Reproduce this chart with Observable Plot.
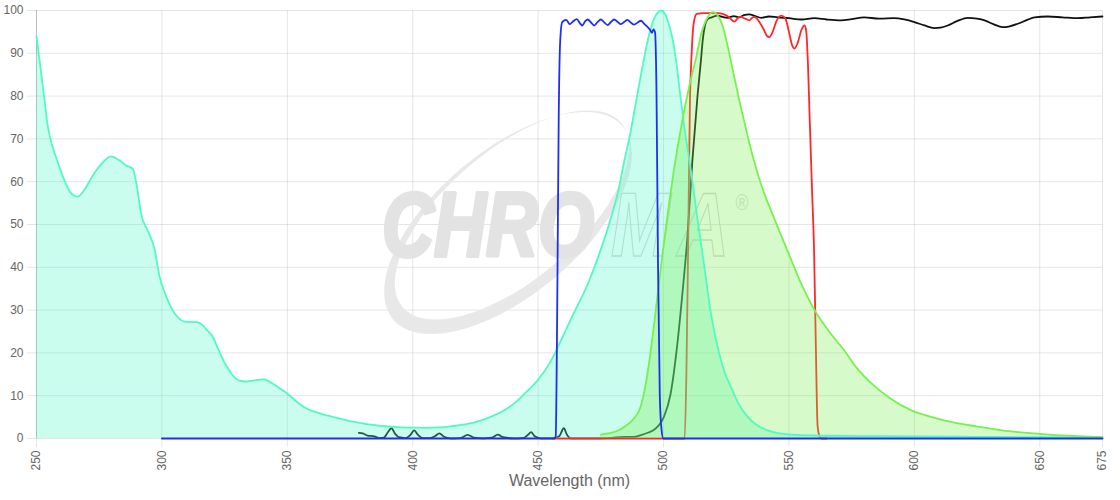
<!DOCTYPE html>
<html>
<head>
<meta charset="utf-8">
<script src="https://cdn.jsdelivr.net/npm/d3@7"></script>
<script src="https://cdn.jsdelivr.net/npm/@observablehq/plot@0.6"></script>
<style>
  body { margin: 0; background: #fff; }
  #chart { width: 1120px; height: 500px; }
</style>
</head>
<body>
<div id="chart"></div>
<script>
// ---- Tick labels ----
const xTicks = [250, 300, 350, 400, 450, 500, 550, 600, 650, 675];
const yTicks = [0, 10, 20, 30, 40, 50, 60, 70, 80, 90, 100];
const xLabel = "Wavelength (nm)";

// ---- Excitation spectrum (aquamarine) ----
const exWl = [250,251.5,253,254.5,256.5,258.5,261,263.5,266.4,269,272.4,276,279.7,283,285.7,288.4,290,291.7,294.3,297,299,301.5,303.6,306.9,309,311.6,314,315.6,318,320.3,322.5,324.9,327,328.9,331,333.5,337,340.8,342.5,344.8,347.5,350.2,353.5,356.8,360,363.4,367,371.4,375.4,379.4,385,390,395,399.3,405,411.3,416,421.9,427,432.5,437,441.9,445,449.8,455.2,459.1,464,469.8,474,479.1,482,484.4,486.5,488.4,491,493.7,496,498,499,500.5,502,503.7,505,506.5,508.3,510.9,513.6,516.3,518.9,522.2,524.5,526.9,530,533.6,537,541.5,546,550.9,560,580,600,625,650,675];
const exVal = [94,87,80,73,68,64.5,60.5,57.5,56.5,58,61.4,64.2,65.9,65,63.8,63,59,52.5,48.6,44.4,38,33.5,30.7,28,27.3,27.2,27.2,26.8,25.3,23.7,20.8,17.8,15.8,14.3,13.5,13.3,13.6,13.8,13.4,12.6,11.5,10.4,8.7,7.3,6.4,5.8,5.2,4.6,4.0,3.6,3.1,2.8,2.6,2.55,2.5,2.6,2.9,3.4,4.2,5.4,6.8,8.9,10.7,13.6,18.2,22.9,29,36.1,42.5,51.7,58,65,70.5,76.6,85,93,97.8,99.7,100,99.3,97,93,88.3,81,72.7,62.6,50.9,40,29.1,19.8,15.2,12,8,5,3.2,1.9,1.2,0.9,0.7,0.55,0.5,0.4,0.3,0.25];

// ---- Emission spectrum (green) ----
const emWl = [475,478,481.7,485,488.4,490.8,493,496.1,498,500.1,502,504.1,507.5,510.9,513,515,517.5,519.6,522,524,526,528,530,532,534,536,538,540,543,546,550,555,560,566,572,577,583,590,599,607,615,625,635,645,655,665,675];
const emVal = [0.9,1.2,1.8,3,4.8,7.3,13,26,35.5,45.5,54,62.6,74.3,84,89,94.5,98.3,99.6,98.5,95.5,90.5,85,79.5,74.5,69.5,65,61,57.5,53,48.7,43,36,30.2,25,20.6,16.5,12.8,9.5,6.5,5,3.8,2.8,1.9,1.3,0.85,0.55,0.3];

// ---- Excitation filter (blue) ----
const bxWl = [300,456.3,457,457.6,458.2,458.8,459.6,461.2,462.6,464,465.4,466.7,467.6,468.8,469.7,471.1,472.3,473.7,475,476.4,477.7,479,480.3,481.7,483,484.3,485.6,486.9,488.3,489.7,491,492.4,493.6,494.6,495.4,496,496.6,497.2,497.8,498.5,499.2,499.9,675];
const bxVal = [0,0,0.5,30,75,93,97.3,97.8,96.8,97.5,98,97,96.5,97.5,97.9,97.2,96.5,97.3,97.9,97.2,96.6,97.3,97.9,97.3,96.8,97.3,97.8,97.2,96.7,97.2,97.6,96.8,96.2,95.5,94.8,95.6,94.9,80,40,10,2,0,0];

// ---- Dichroic (black) ----
const dcWl = [378.5,380,382,384.7,386.5,388.5,390,391.5,393,394.5,397,399,400.6,402,404,407,409,410.6,412.5,415,419,421.9,424.5,428,431.5,433.9,436,440,444,446,447.2,448.5,451,456,458.5,460.2,461.5,463,470,478,484.4,488,491,494,496.1,498,500.1,502.8,505.5,507.5,509.5,511.5,513.6,514.9,515.6,516.5,517.6,519.2,521.6,523.5,525.6,528,530,532,534.2,536.5,538.9,542,545.5,550,555,560.1,565,570.8,575,580,586,592,596,600,604,608,610.5,613.3,617,621.3,625,628,631.5,635.2,638,641.2,645,647.9,653.2,659,665.2,670,675];
const dcVal = [1.3,1.2,0.7,0.5,0.1,0.2,1.4,2.4,1.1,0.3,0.1,0.8,1.9,0.9,0.1,0.1,0.6,1.2,0.4,0.05,0.1,0.85,0.2,0.05,0.2,0.9,0.3,0.05,0.1,0.9,1.5,0.6,0.05,0.02,0.6,2.4,0.9,0.05,0.05,0.1,0.4,0.4,0.8,1.4,2,3,5,10.4,22.1,33.8,47,65,80.5,88.3,93,96.5,98,98.4,98.8,98.5,98.3,98.7,98.4,98.9,99.1,98.7,98.3,98.6,98.4,98.2,97.9,98.2,97.9,97.7,98,98.4,98.1,98.2,97.9,97.3,96.5,95.9,96,96.5,97.5,98.3,98.1,97.7,96.8,96.1,96.3,96.9,97.8,98.4,98.6,98.4,98.2,98.4,98.6];

// ---- Emission filter (red) ----
const rdWl = [456,508.4,509.1,509.8,510.5,511.2,512,513.2,516,519.1,521.5,523.6,526,528.2,529.8,530.9,532.5,534.2,535.3,536.2,537.2,538.2,540,541.3,542.2,543.5,545,546.9,548.5,550,551.3,552.2,553.5,555,556.2,556.9,557.6,558.3,559.2,560,560.7,561.4,562.2,563,565];
const rdVal = [0,0,15,45,78,90,97,99.2,99.4,99.4,99.4,99.2,98.5,97.4,98.3,98.5,98.1,97.7,98.3,98.5,98.1,97.3,95.5,94,93.8,95,97.5,98.8,98.2,95,91.8,91.1,92.5,95.5,96.5,95,87,74,58,44,22,3,0.5,0,0];

const rows = (w, v) => w.map((x, i) => ({x, y: v[i]}));
const ex = rows(exWl, exVal), em = rows(emWl, emVal), bx = rows(bxWl, bxVal), dc = rows(dcWl, dcVal), rd = rows(rdWl, rdVal);

const AQ = "#50fac3", GR = "#78f050", BL = "#1e2ef5", RD = "#ff2626", BK = "#111";
const curve = "monotone-x";

// watermark logo (decoration drawn behind the data)
function watermark() {
  const g = d3.create("svg:g").attr("pointer-events", "none").attr("text-anchor", "start")
    .attr("font-family", "Liberation Sans, Arial, sans-serif");
  const ell = (cx, cy, rx, ry, a) => {
    const r = a * Math.PI / 180, c = Math.cos(r), s = Math.sin(r);
    let p = "";
    for (let i = 0; i <= 72; i++) {
      const t = i / 72 * 2 * Math.PI, ex = rx * Math.cos(t), ey = ry * Math.sin(t);
      p += (i ? "L" : "M") + (cx + ex * c - ey * s).toFixed(1) + "," + (cy + ex * s + ey * c).toFixed(1);
    }
    return p + "Z";
  };
  g.append("path")
    .attr("d", ell(508, 223, 150, 72, -40) + ell(512, 215, 143, 65, -40))
    .attr("fill", "#e8e8e8").attr("fill-rule", "evenodd");
  const t = g.append("text")
    .attr("transform", "translate(382,256) scale(0.8,1)")
    .attr("font-size", 90).attr("font-weight", "bold").attr("font-style", "italic");
  t.append("tspan").text("CHRO")
    .attr("fill", "#e3e3e3").attr("stroke", "#e3e3e3").attr("stroke-width", 4).attr("stroke-linejoin", "round");
  t.append("tspan").text("MA").attr("dx", 21).attr("letter-spacing", 8)
    .attr("fill", "none").attr("stroke", "#d6d6d6").attr("stroke-width", 1.3);
  t.append("tspan").text("®").attr("dx", 0).attr("dy", -46).attr("font-size", 22).attr("font-weight", "normal")
    .attr("font-style", "normal").attr("letter-spacing", 0).attr("fill", "#dedede");
  return g.node();
}

const chart = Plot.plot({
  width: 1120,
  height: 500,
  marginLeft: 36,
  marginRight: 18,
  marginTop: 10,
  marginBottom: 62,
  style: {fontFamily: "Liberation Sans, Arial, sans-serif", fontSize: "12px", color: "#666", background: "#fff", overflow: "visible"},
  x: {domain: [250, 675]},
  y: {domain: [0, 100]},
  marks: [
    Plot.gridX(xTicks, {stroke: "#000", strokeOpacity: 0.1}),
    Plot.gridY(yTicks, {stroke: "#000", strokeOpacity: 0.1}),
    Plot.ruleX([250], {stroke: "#000", strokeOpacity: 0.18}),
    Plot.axisX(xTicks, {tickRotate: -90, tickSize: 9, tickPadding: 3, stroke: "#000", strokeOpacity: 0.1, fill: "#666", fontSize: 12, label: null, tickFormat: d => String(d)}),
    Plot.axisY(yTicks, {tickSize: 9, tickPadding: 4, stroke: "#000", strokeOpacity: 0.1, fill: "#666", fontSize: 12, label: null, tickFormat: d => String(d)}),
    Plot.text([xLabel], {frameAnchor: "bottom", dy: 47, fontSize: 16, fill: "#666"}),
    watermark,
    Plot.line(dc, {x: "x", y: "y", stroke: BK, strokeWidth: 1.8, curve}),
    Plot.line(rd, {x: "x", y: "y", stroke: RD, strokeWidth: 1.8, curve}),
    Plot.areaY(ex, {x: "x", y: "y", fill: AQ, fillOpacity: 0.3, curve}),
    Plot.areaY(em, {x: "x", y: "y", fill: GR, fillOpacity: 0.3, curve}),
    Plot.line(ex, {x: "x", y: "y", stroke: AQ, strokeWidth: 1.8, curve}),
    Plot.line(em, {x: "x", y: "y", stroke: GR, strokeWidth: 1.8, curve}),
    Plot.line(bx, {x: "x", y: "y", stroke: BL, strokeWidth: 1.8, curve})
  ]
});
document.getElementById("chart").appendChild(chart);
</script>
</body>
</html>
